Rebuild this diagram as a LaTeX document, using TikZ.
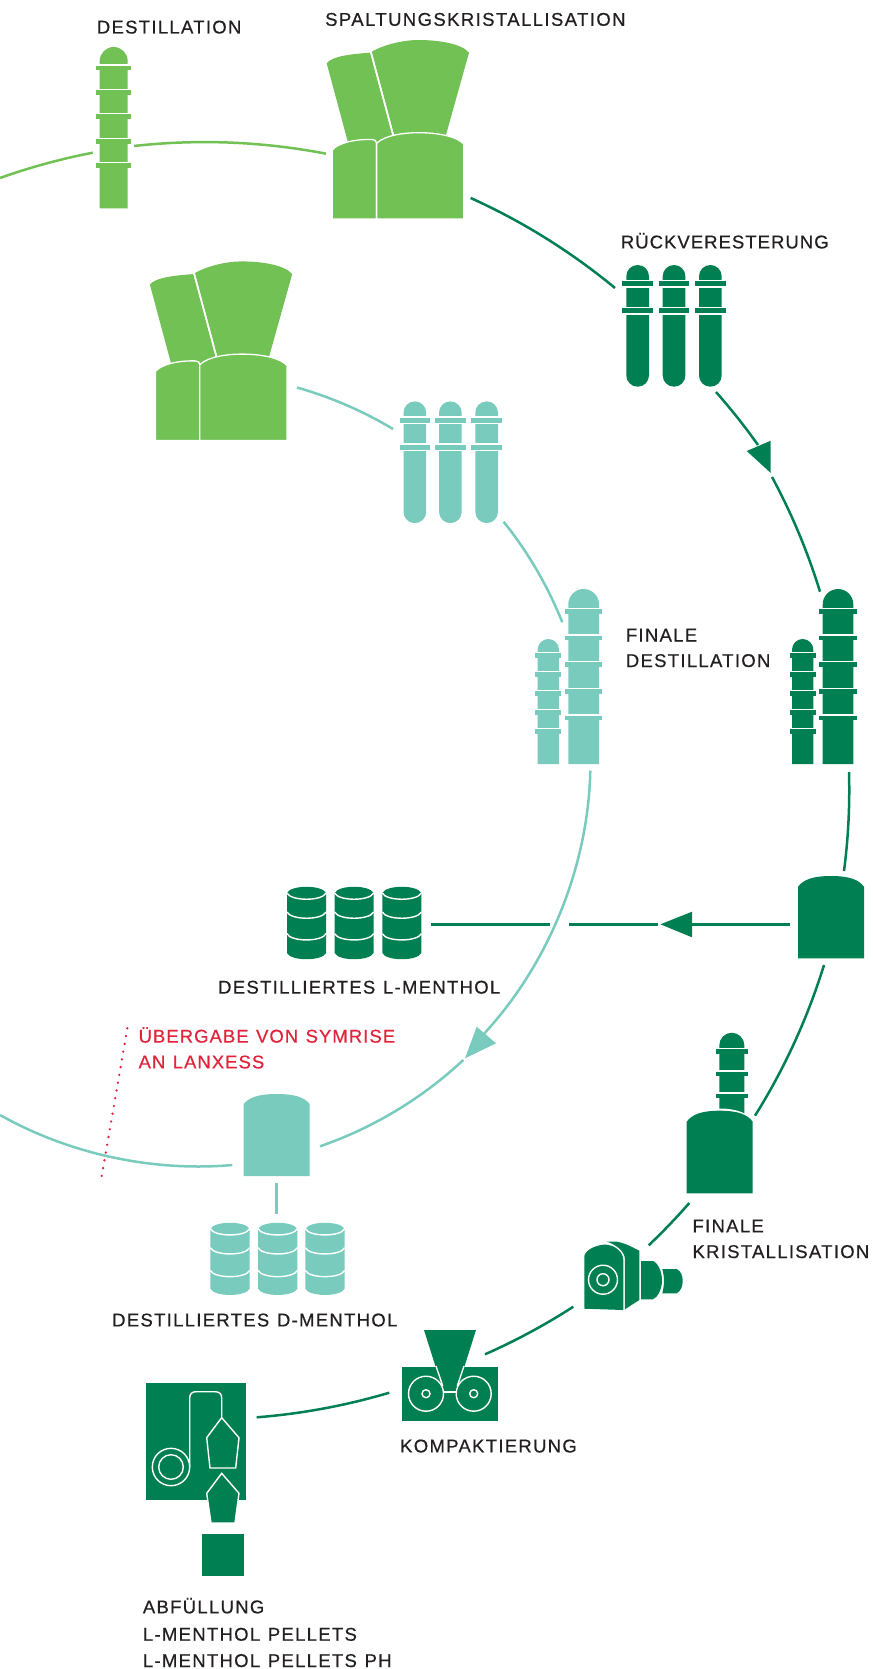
\documentclass[tikz,border=0pt]{standalone}
\usepackage{fontspec}
\setmainfont[LetterSpace=7.0,FakeBold=0.5,WordSpace=1.2]{Liberation Sans}
\definecolor{lg}{HTML}{72C155}
\definecolor{dg}{HTML}{007F53}
\definecolor{tl}{HTML}{78CBBD}
\definecolor{rd}{HTML}{E0243B}
\definecolor{tx}{HTML}{231F20}
\tikzset{
  lbl/.style={anchor=base west,inner sep=0pt,font=\fontsize{18.5}{25.5}\selectfont,text=tx,align=left},
  conn/.style={line width=2.5pt,looseness=0.86},
  wl/.style={draw=white,line width=1.4pt,fill=none},
}
% column: colour, xl, xr, top, bottom, overhang, flange ys
\newcommand{\ColumnIcon}[7]{%
  \pgfmathsetmacro{\cw}{#3-#2}\pgfmathsetmacro{\cm}{(#3+#2)/2}\pgfmathsetmacro{\ch}{#4+\cw/2}%
  \fill[#1] (#2,#5) -- (#2,\ch) .. controls (#2,{\ch-\cw*.275}) and ({\cm-\cw*.275},#4) .. (\cm,#4)
     .. controls ({\cm+\cw*.275},#4) and (#3,{\ch-\cw*.275}) .. (#3,\ch) -- (#3,#5) -- cycle;
  \foreach \fy in {#7}{%
    \fill[white] ({#2-#6-.5},{\fy-3.7}) rectangle ({#3+#6+.5},{\fy-2.2});
    \fill[#1] ({#2-#6},{\fy-2.4}) rectangle ({#3+#6},{\fy+2.4});
  }}
% tube: colour, xl, top offset
\newcommand{\TubeIcon}[3]{%
  \pgfmathsetmacro{\tr}{#2+22.7}\pgfmathsetmacro{\tm}{#2+11.35}\pgfmathsetmacro{\tb}{#3+121.7}%
  \fill[#1] (#2,{#3+11.35}) .. controls (#2,{#3+5}) and ({\tm-6.3},#3) .. (\tm,#3)
    .. controls ({\tm+6.3},#3) and (\tr,{#3+5}) .. (\tr,{#3+11.35}) -- (\tr,{\tb-11.35})
    .. controls (\tr,{\tb-5}) and ({\tm+6.3},\tb) .. (\tm,\tb)
    .. controls ({\tm-6.3},\tb) and (#2,{\tb-5}) .. (#2,{\tb-11.35}) -- cycle;
  \foreach \fd in {18.7,45.7}{%
    \fill[white] ({#2-4.5},{#3+\fd-3.9}) rectangle ({\tr+4.5},{#3+\fd+3.9});
    \fill[#1] ({#2-4},{#3+\fd-2.5}) rectangle ({\tr+4},{#3+\fd+2.5});
  }}
% tank: colour, xl, xr, top, shoulder, bottom
\newcommand{\TankIcon}[6]{%
  \pgfmathsetmacro{\cm}{(#3+#2)/2}\pgfmathsetmacro{\cw}{#3-#2}\pgfmathsetmacro{\sh}{#5-#4}%
  \fill[#1] (#2,#6) -- (#2,#5) .. controls ({#2+.08*\cw},{#4+.35*\sh}) and ({\cm-.28*\cw},#4) .. (\cm,#4)
    .. controls ({\cm+.28*\cw},#4) and ({#3-.08*\cw},{#4+.35*\sh}) .. (#3,#5) -- (#3,#6) -- cycle;}
% drum: colour, xl, xr, top, bottom, rim ys
\newcommand{\DrumIcon}[6]{%
  \pgfmathsetmacro{\cm}{(#3+#2)/2}\pgfmathsetmacro{\cw}{#3-#2}%
  \fill[#1] (#2,{#4+6.3}) .. controls ({#2+.1*\cw},{#4-2}) and ({#3-.1*\cw},{#4-2}) .. (#3,{#4+6.3})
    -- (#3,{#5-6.3}) .. controls ({#3-.1*\cw},{#5+2}) and ({#2+.1*\cw},{#5+2}) .. (#2,{#5-6.3}) -- cycle;
  \foreach \ry in {#6}{%
    \draw[wl] (#2,{\ry-6.3}) .. controls ({#2+.1*\cw},{\ry+2}) and ({#3-.1*\cw},{\ry+2}) .. (#3,{\ry-6.3});
  }}
% crystalliser: colour, dx, dy
\newcommand{\CrystalIcon}[3]{%
  \begin{scope}[shift={(#2,#3)}]
  \fill[#1] (326.7,63.3) .. controls (332,56) and (352,54) .. (370,52.7) -- (394,142) -- (350,150) -- cycle;
  \fill[#1] (371.7,51.7) .. controls (385,44) and (405,40) .. (418.3,40) .. controls (440,40) and (462,44) .. (469,52.7) -- (444,142) -- (396,142) -- cycle;
  \draw[white,line width=1.4pt] (370.7,51) -- (393.5,136);
  \fill[#1,draw=white,line width=1.3pt] (332.3,219) -- (332.3,150) .. controls (338,143) and (355,139) .. (372,139.5) .. controls (375,139.5) and (376.6,141) .. (376.6,143.3) -- (376.6,219) -- cycle;
  \fill[#1,draw=white,line width=1.3pt] (376.6,219) -- (376.6,143.3) .. controls (385,135) and (405,132.7) .. (418.3,132.7) .. controls (440,132.7) and (458,137) .. (463.8,144.3) -- (463.8,219) -- cycle;
  \end{scope}}
\begin{document}
\begin{tikzpicture}[x=1pt,y=-1pt]
\useasboundingbox (0,0) rectangle (872,1669);
% ---- connector ends
\coordinate (a0) at (0,178);      \coordinate (a1) at (92.7,152.7);
\coordinate (a2) at (134,146);    \coordinate (a3) at (326,153.7);
\coordinate (b0) at (470.7,198);  \coordinate (b1) at (615,288);
\coordinate (b2) at (716,392);    \coordinate (b3) at (758,445);
\coordinate (b4) at (772,477);    \coordinate (b5) at (820,591.7);
\coordinate (b6) at (849,772);    \coordinate (b7) at (844,871);
\coordinate (b8) at (824,965);    \coordinate (b9) at (755,1115.7);
\coordinate (c0) at (689.3,1203); \coordinate (c1) at (648.7,1245.3);
\coordinate (c2) at (573.3,1306.7);\coordinate (c3) at (485,1354.3);
\coordinate (c4) at (389.3,1392.7);\coordinate (c5) at (256.7,1417.3);
\coordinate (h0) at (790,924.3);  \coordinate (hm) at (680,924.3);
\coordinate (hn) at (658,924.3);  \coordinate (h1) at (569,924.3);
\coordinate (h2) at (549.6,924.3);\coordinate (h3) at (430.8,924.3);
\coordinate (t0) at (297,387.5);  \coordinate (t1) at (393,429);
\coordinate (t2) at (503.6,521.7);\coordinate (t3) at (562.3,622.3);
\coordinate (t4) at (590.3,770.7);\coordinate (t5) at (481,1037);
\coordinate (t5b) at (463.3,1060);\coordinate (t6) at (320,1146.3);
\coordinate (t7) at (232.3,1165); \coordinate (t8) at (0,1115);
\coordinate (v0) at (276.7,1183.3);\coordinate (v1) at (276.7,1214);
\coordinate (r0) at (127.3,1028.3);\coordinate (r1) at (101.7,1176.3);
% ---- connectors
\draw[conn,lg] (a0) to[bend left=4.3] (a1);
\draw[conn,lg] (a2) to[bend left=8.6] (a3);
\draw[conn,dg] (b0) to[bend left=7.6] (b1);
\draw[conn,dg] (b2) to[bend left=3] (b3);
\draw[conn,dg] (b4) to[bend left=5.6] (b5);
\draw[conn,dg] (b6) to[bend left=4.5] (b7);
\draw[conn,dg] (b8) to[bend left=7.4] (b9);
\draw[conn,dg] (c0) to[bend left=2.6] (c1);
\draw[conn,dg] (c2) to[bend left=4.5] (c3);
\draw[conn,dg] (c4) to[bend left=6] (c5);
\draw[conn,dg] (h0) -- (hm);
\draw[conn,dg] (hn) -- (h1);
\draw[conn,dg] (h2) -- (h3);
\draw[conn,tl] (t0) to[bend left=7.5] (t1);
\draw[conn,tl] (t2) to[bend left=8.4] (t3);
\draw[conn,tl] (t4) to[bend left=21.1] (t5);
\draw[conn,tl] (t5b) to[bend left=12] (t6);
\draw[conn,tl] (t7) to[bend left=17.2] (t8);
\draw[conn,tl] (v0) -- (v1);
\draw[rd,line width=2.6pt,line cap=round,dash pattern=on 0pt off 7.88pt] (r0) -- (r1);
% ---- arrowheads
\fill[dg] (770.7,473) -- (746.7,451) -- (770.7,440.7) -- cycle;
\fill[dg] (660.4,924.3) -- (692,911.7) -- (692,937.3) -- cycle;
\fill[tl] (465,1058.3) -- (476.7,1026.7) -- (496,1043.3) -- cycle;
% ---- icons
\ColumnIcon{lg}{99.7}{127.7}{47}{208.3}{3.6}{68,92.3,116.7,141.3,165.7}
\CrystalIcon{lg}{0}{0}
\CrystalIcon{lg}{-176.8}{221.4}
\TubeIcon{dg}{626.3}{265}
\TubeIcon{dg}{662.7}{265}
\TubeIcon{dg}{699}{265}
\TubeIcon{tl}{403.5}{401.4}
\TubeIcon{tl}{439}{401.4}
\TubeIcon{tl}{475.3}{401.4}
\ColumnIcon{tl}{537.7}{559}{639}{764}{2.4}{655.3,674.3,693.3,712.3,731.3}
\ColumnIcon{tl}{568.3}{599}{589}{764}{3.4}{611.3,638,664.7,691.3,718}
\ColumnIcon{dg}{792}{813.3}{639}{764}{2.4}{655.3,674.3,693.3,712.3,731.3}
\ColumnIcon{dg}{822.7}{853.3}{589}{764}{3.4}{611.3,638,664.7,691.3,718}
\TankIcon{dg}{798}{864}{876}{886.7}{958.3}
\foreach \dx in {287,334.6,382.3}{\DrumIcon{dg}{\dx}{\dx+39}{886.7}{959.3}{899.3,918.3,940}}
\TankIcon{tl}{243.7}{309.7}{1094}{1104}{1176}
\foreach \dx in {210.3,258,305.3}{\DrumIcon{tl}{\dx}{\dx+39.4}{1222.7}{1295}{1235,1254,1276.7}}
% crystalliser with column
\ColumnIcon{dg}{719.3}{744.3}{1032.7}{1115}{3.2}{1051.7,1074,1096}
\fill[white] (684,1123) .. controls (692,1113) and (705,1108.5) .. (720,1108.5) .. controls (735,1108.5) and (750,1113) .. (755,1123) -- (755,1126) -- (684,1126) -- cycle;
\TankIcon{dg}{686.7}{752.7}{1110.7}{1121.7}{1193.3}
% extruder
\fill[dg] (584.3,1308.7) -- (584.3,1256) .. controls (586,1249) and (597,1245) .. (605,1244.5) .. controls (615,1245) and (623.3,1252) .. (623.3,1260) -- (623.3,1310) -- cycle;
\fill[dg] (606.7,1241.7) -- (616.7,1241.7) .. controls (625,1243) and (632,1247) .. (639.3,1250.7) -- (639.3,1300) -- (624.9,1309.3) -- (624.9,1259) .. controls (624.9,1251) and (615,1244) .. (606.7,1241.7) -- cycle;
\fill[dg] (641,1261) -- (653.3,1261) .. controls (658,1263) and (662,1272) .. (662,1280) .. controls (662,1289) and (658,1297) .. (653,1299.3) -- (641,1299.3) -- cycle;
\fill[dg] (662.3,1269) -- (676.7,1269) .. controls (681,1271) and (682.7,1276) .. (682.7,1281) .. controls (682.7,1286) and (681,1291) .. (676.7,1293.3) -- (662.3,1293.3) .. controls (664.5,1285) and (664.5,1277) .. (662.3,1269) -- cycle;
\draw[wl] (603,1279.7) circle[radius=14.5];
\draw[wl] (603,1279.7) circle[radius=6];
% compactor
\fill[dg] (401.7,1366.7) rectangle (498.3,1420.7);
\fill[dg] (424,1330) -- (476,1330) -- (456.5,1391.7) -- (443.5,1391.7) -- cycle;
\draw[white,line width=1.4pt] (436,1366) -- (442.7,1386);
\draw[white,line width=1.4pt] (464,1366) -- (457.3,1386);
\draw[wl] (426,1393.7) circle[radius=17.5];
\draw[wl] (473.7,1393.7) circle[radius=17.5];
\draw[wl] (426,1393.7) circle[radius=4];
\draw[wl] (473.7,1393.7) circle[radius=4];
\draw[wl] (443.5,1392) -- (456.2,1392);
% packaging
\fill[dg] (145.7,1383) rectangle (245.7,1499.7);
\draw[wl] (171,1467) circle[radius=18.7];
\draw[wl] (171,1467) circle[radius=12.3];
\draw[wl] (189.7,1467) -- (189.7,1398) .. controls (189.7,1394) and (192,1391.7) .. (196,1391.7) -- (215,1391.7) .. controls (219.5,1391.7) and (221.7,1394) .. (221.7,1398) -- (221.7,1417.7);
\draw[wl] (221.7,1417.7) -- (239,1437.7) -- (235.7,1468) -- (210,1468) -- (206.7,1437.7) -- cycle;
\fill[dg,draw=white,line width=1.4pt] (221.7,1473.3) -- (239,1493.3) -- (235,1523) -- (211,1523) -- (206.7,1493.3) -- cycle;
\draw[white,line width=2pt] (210.6,1524) -- (235.4,1524);
\fill[dg] (202,1534.3) rectangle (243.7,1576);
% ---- labels
\node[lbl] (l1) at (96.7,33.5) {DESTILLATION};
\node[lbl] (l2) at (325,25.8) {\addfontfeature{LetterSpace=7.6}SPALTUNGSKRISTALLISATION};
\node[lbl] (l3) at (620.7,248.4) {\addfontfeature{LetterSpace=5.6}RÜCKVERESTERUNG};
\node[lbl] (l4a) at (625.7,641.5) {FINALE};
\node[lbl] (l4b) at (625.7,667) {DESTILLATION};
\node[lbl] (l5) at (218,993.6) {DESTILLIERTES L-MENTHOL};
\node[lbl,text=rd] (l6a) at (138.4,1042.6) {\addfontfeature{LetterSpace=5.6}ÜBERGABE VON SYMRISE};
\node[lbl,text=rd] (l6b) at (138.4,1068.4) {\addfontfeature{LetterSpace=5.6}AN LANXESS};
\node[lbl] (l7) at (112,1326.4) {DESTILLIERTES D-MENTHOL};
\node[lbl] (l8a) at (692.3,1232.4) {FINALE};
\node[lbl] (l8b) at (692.3,1258) {KRISTALLISATION};
\node[lbl] (l9) at (400,1452.4) {KOMPAKTIERUNG};
\node[lbl] (l10a) at (142.7,1613.3) {ABFÜLLUNG};
\node[lbl] (l10b) at (142.7,1640.7) {L-MENTHOL PELLETS};
\node[lbl] (l10c) at (142.7,1667) {L-MENTHOL PELLETS PH};
\end{tikzpicture}
\end{document}
